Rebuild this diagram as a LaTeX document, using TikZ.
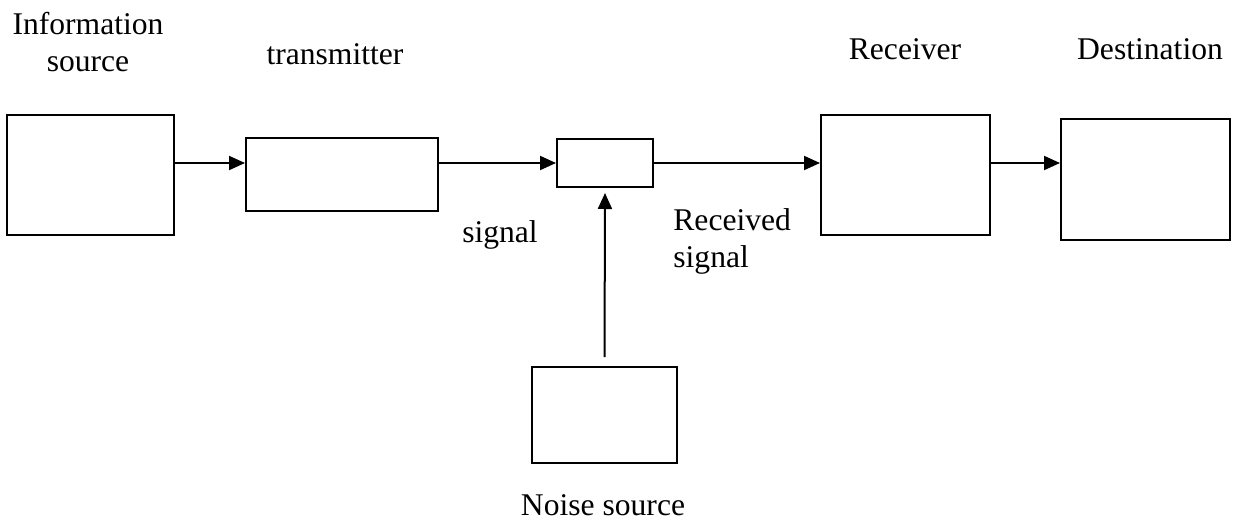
\documentclass[tikz,border=0pt]{standalone}
\usepackage{fontspec}
\setmainfont{Liberation Serif}
\usetikzlibrary{arrows.meta}
\begin{document}
\begin{tikzpicture}[x=0.5pt, y=-0.5pt,
    box/.style={draw, line width=1pt, inner sep=0pt},
    lbl/.style={inner sep=0pt, font=\fontsize{15.8}{18.5}\selectfont},
    flow/.style={-{Triangle[length=8pt,width=7pt]}, line width=1pt}]
  \useasboundingbox (0, 0) rectangle (1234, 524);

  \node (src) at (90.5, 175) [box, minimum width=83.5pt, minimum height=60pt] {};
  \node (tx) at (342, 174.5) [box, minimum width=96pt, minimum height=36.5pt] {};
  \node (chan) at (605, 163) [box, minimum width=48pt, minimum height=24pt] {};
  \node (rx) at (905.5, 175) [box, minimum width=84.5pt, minimum height=60pt] {};
  \node (dst) at (1145.5, 179.5) [box, minimum width=84.5pt, minimum height=60.5pt] {};
  \node (noise) at (604.5, 415) [box, minimum width=72.5pt, minimum height=48pt] {};

  \node (srclbl) at (88, 72) [lbl, anchor=base, align=center] {Information\\source};
  \node (txlbl) at (335, 65) [lbl, anchor=base] {transmitter};
  \node (siglbl) at (500, 242) [lbl, anchor=base] {signal};
  \node (rsiglbl) at (673, 267) [lbl, anchor=base west, align=left] {Received\\signal};
  \node (rxlbl) at (905, 60) [lbl, anchor=base] {Receiver};
  \node (dstlbl) at (1150, 60) [lbl, anchor=base] {Destination};
  \node (noiselbl) at (603, 515) [lbl, anchor=base] {Noise source};

  \draw[flow] (src.east |- chan) to (tx.west |- chan);
  \draw[flow] (tx.east |- chan) to (chan.west);
  \draw[flow] (chan.east) to (rx.west |- chan);
  \draw[flow] (rx.east |- chan) to (dst.west |- chan);
  \draw[flow, shorten <=4.5pt, shorten >=2.5pt] (noise.north) to (chan.south);
\end{tikzpicture}
\end{document}
